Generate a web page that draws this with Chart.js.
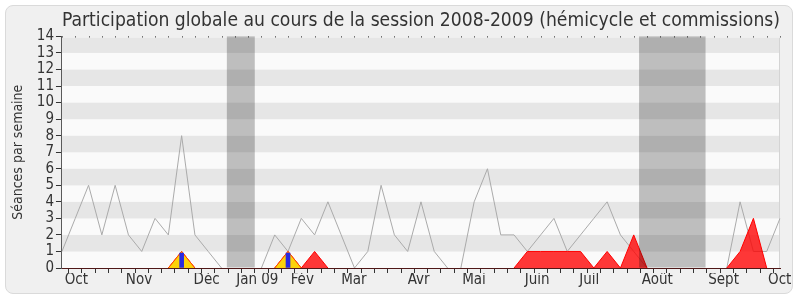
<!DOCTYPE html>
<html>
<head>
<meta charset="utf-8">
<script src="https://cdn.jsdelivr.net/npm/chart.js@4"></script>
<style>
  body { margin: 0; background: #fff; }
  #cadre { position: absolute; left: 5px; top: 5px; width: 786px; height: 287px;
           background: #f0f0f0; border: 1px solid #dadada; border-radius: 8px; }
  #graph { position: absolute; left: 0; top: 0; }
</style>
</head>
<body>
<div id="cadre"></div>
<canvas id="graph" width="800" height="300"></canvas>
<script>
'use strict';

// semaines de la session (oct. 2008 -> oct. 2009)
var semaines = [];
for (var i = 0; i <= 54; i++) semaines.push(i);

// participation (ligne grise)
var participation = [1, 3, 5, 2, 5, 2, 1, 3, 2, 8, 2, 1, 0, 0, 0, 0, 2, 1, 3, 2,
                     4, 2, 0, 1, 5, 2, 1, 4, 1, 0, 0, 4, 6, 2, 2, 1, 2, 3, 1, 2,
                     3, 4, 2, 1, 0, 0, 0, 0, 0, 0, 0, 4, 1, 1, 3];
// presences (rouge)
var presences = [0, 0, 0, 0, 0, 0, 0, 0, 0, 1, 0, 0, 0, 0, 0, 0, 0, 1, 0, 1,
                 0, 0, 0, 0, 0, 0, 0, 0, 0, 0, 0, 0, 0, 0, 0, 1, 1, 1, 1, 1,
                 0, 1, 0, 2, 0, 0, 0, 0, 0, 0, 0, 1, 3, 0, 0];
// hemicycle (jaune)
var hemicycle = [];
for (var i = 0; i <= 54; i++) hemicycle.push(0);
hemicycle[9] = 1;
hemicycle[17] = 1;
// interventions (barres bleues)
var interventions = [];
for (var i = 0; i <= 54; i++) interventions.push(null);
interventions[9] = 0.9;
interventions[17] = 0.9;

// vacances parlementaires (en semaines)
var vacances = [[12.4, 14.5], [43.4, 48.4]];

// etiquettes
var mois = ['Oct', 'Nov', 'Déc', 'Jan 09', 'Fév', 'Mar', 'Avr', 'Mai', 'Juin', 'Juil', 'Août', 'Sept', 'Oct'];
var moisPos = [0.2, 4.8, 9.9, 13.1, 17.2, 21.0, 26.0, 30.1, 34.8, 38.9, 43.6, 48.6, 53.1];

var police = "'DejaVu Sans Condensed', 'DejaVu Sans', sans-serif";
var texte = '#333333';

function sansZero(ctx) {
    if (ctx.p0.parsed.y === 0 && ctx.p1.parsed.y === 0) return 'rgba(0,0,0,0)';
    return undefined;
}

var fond = {
    id: 'fond',
    beforeDatasetsDraw: function (chart) {
        var ctx = chart.ctx, a = chart.chartArea, x = chart.scales.x, y = chart.scales.y;
        ctx.save();
        for (var v = 0; v < 14; v++) {
            var haut = y.getPixelForValue(v + 1), bas = y.getPixelForValue(v);
            ctx.fillStyle = (v % 2) ? '#e6e6e6' : '#fafafa';
            ctx.fillRect(a.left, haut + (v === 13 ? 1.5 : 0), a.right - a.left, bas - haut - (v === 13 ? 1.5 : 0));
        }
        ctx.fillStyle = '#222';
        for (var i = 0; i < semaines.length; i++) {
            ctx.fillRect(Math.round(x.getPixelForValue(i)), a.top, 1, 1);
        }
        ctx.fillStyle = '#d4d4d4';
        ctx.fillRect(a.right - 1, a.top + 1.5, 1, a.bottom - a.top - 1.5);
        ctx.restore();
    },
    afterDatasetsDraw: function (chart) {
        var ctx = chart.ctx, a = chart.chartArea, x = chart.scales.x;
        ctx.save();
        ctx.fillStyle = 'rgba(0,0,0,0.24)';
        vacances.forEach(function (p) {
            var x0 = x.getPixelForValue(p[0]), x1 = x.getPixelForValue(p[1]);
            ctx.fillRect(x0, a.top, x1 - x0, a.bottom - a.top - 0.5);
        });
        ctx.restore();
    }
};

new Chart(document.getElementById('graph'), {
    type: 'line',
    data: {
        labels: semaines,
        datasets: [
            {
                type: 'bar',
                data: interventions,
                backgroundColor: '#2a2ae0',
                barThickness: 4,
                order: 0
            },
            {
                data: hemicycle,
                fill: 'origin',
                backgroundColor: '#fcd20a',
                borderColor: '#ff4a00',
                borderWidth: 1,
                pointRadius: 0,
                tension: 0,
                segment: { borderColor: sansZero },
                order: 1
            },
            {
                data: presences,
                fill: 'origin',
                backgroundColor: 'rgba(255,0,0,0.78)',
                borderColor: '#ff0000',
                borderWidth: 1,
                pointRadius: 0,
                tension: 0,
                segment: { borderColor: sansZero },
                order: 2
            },
            {
                data: participation,
                fill: false,
                borderColor: '#aaaaaa',
                borderWidth: 1,
                pointRadius: 0,
                tension: 0,
                segment: { borderColor: sansZero },
                order: 3
            }
        ]
    },
    options: {
        responsive: false,
        animation: false,
        layout: { padding: { top: 6, left: 6, right: 20, bottom: 13 } },
        plugins: {
            legend: { display: false },
            tooltip: { enabled: false },
            title: {
                display: true,
                fullSize: false,
                text: 'Participation globale au cours de la session 2008-2009 (hémicycle et commissions)',
                color: texte,
                font: { family: police, size: 19.5, weight: 'normal' },
                padding: { top: 3, bottom: 4 }
            }
        },
        scales: {
            x: {
                type: 'category',
                offset: false,
                z: 1,
                grid: { drawOnChartArea: false, tickLength: 5, tickColor: '#333' },
                border: { color: '#501818' },
                ticks: { display: false }
            },
            xMois: {
                type: 'linear',
                position: 'bottom',
                weight: 1,
                min: 0,
                max: 54,
                grid: { display: false, drawTicks: false },
                border: { display: false },
                afterBuildTicks: function (axe) {
                    axe.ticks = moisPos.map(function (v) { return { value: v }; });
                },
                ticks: {
                    autoSkip: false,
                    maxRotation: 0,
                    align: 'start',
                    padding: -2,
                    color: texte,
                    font: { family: police, size: 15 },
                    callback: function (v, idx) { return mois[idx]; }
                }
            },
            y: {
                min: 0,
                max: 14,
                grid: { drawOnChartArea: false, tickLength: 6, tickColor: '#333' },
                border: { color: '#555' },
                ticks: {
                    stepSize: 1,
                    autoSkip: false,
                    padding: 2,
                    color: texte,
                    font: { family: police, size: 15 }
                },
                title: {
                    display: true,
                    text: 'Séances par semaine',
                    color: texte,
                    font: { family: police, size: 14 },
                    padding: { top: 4, bottom: 8 }
                }
            }
        }
    },
    plugins: [fond]
});
</script>
</body>
</html>
